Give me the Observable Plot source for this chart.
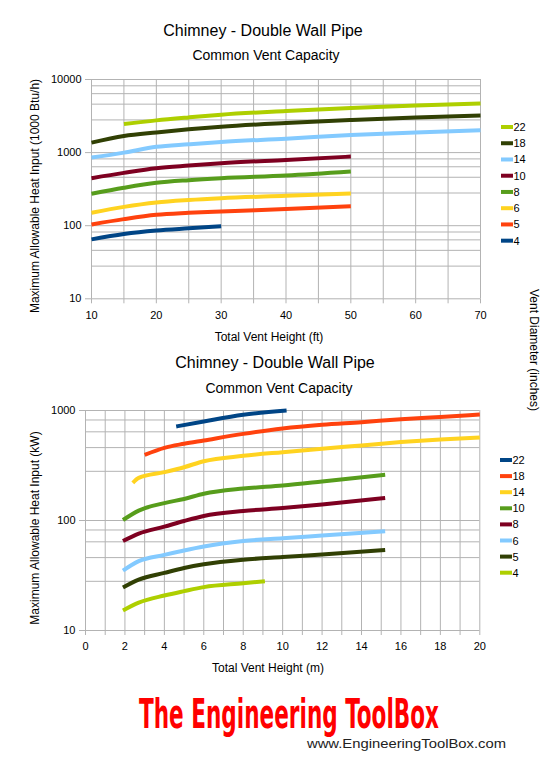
<!DOCTYPE html>
<html>
<head>
<meta charset="utf-8">
<script src="https://cdn.jsdelivr.net/npm/d3@7"></script>
<script src="https://cdn.jsdelivr.net/npm/@observablehq/plot@0.6"></script>
<style>
  html, body { margin: 0; padding: 0; background: #fff; }
  #root { position: relative; width: 550px; height: 762px; overflow: hidden; font-family: "Liberation Sans", Arial, sans-serif; }
  #root > svg, #root > figure { position: absolute; left: 0; margin: 0; }
</style>
</head>
<body>
<div id="root"></div>
<script>
// ---------- DATA ----------
const diameters = ["22", "18", "14", "10", "8", "6", "5", "4"];
const topColors = ["#aecf00", "#314004", "#83caff", "#7e0021", "#579d1c", "#ffd320", "#ff420e", "#004586"];
const bottomColors = ["#004586", "#ff420e", "#ffd320", "#579d1c", "#7e0021", "#83caff", "#314004", "#aecf00"];

// Top chart: [height ft, 1000 Btu/h]
const ft22 = [[15, 2460], [20, 2760], [25, 3030], [30, 3300], [40, 3700], [50, 4070], [60, 4420], [70, 4710]];
const ft18 = [[10, 1370], [15, 1690], [20, 1890], [25, 2080], [30, 2260], [40, 2540], [50, 2790], [60, 3030], [70, 3230]];
const ft14 = [[10, 855], [15, 1000], [20, 1200], [25, 1300], [30, 1400], [40, 1550], [50, 1740], [60, 1890], [70, 2020]];
const ft10 = [[10, 447], [15, 528], [20, 611], [25, 665], [30, 716], [40, 795], [50, 882]];
const ft8 = [[10, 273], [15, 330], [20, 386], [25, 420], [30, 447], [40, 486], [50, 551]];
const ft6 = [[10, 150], [15, 181], [20, 208], [25, 225], [30, 238], [40, 256], [50, 276]];
const ft5 = [[10, 104], [15, 123], [20, 141], [25, 150], [30, 157], [40, 169], [50, 185]];
const ft4 = [[10, 65], [15, 77], [20, 86], [25, 92], [30, 98]];

// Bottom chart: [height m, kW]
const m22 = [[4.6, 716], [6, 795], [8, 914], [10.2, 1000]];
const m18 = [[3.0, 395], [4, 458], [5, 498], [6, 534], [8, 613], [10, 686], [12, 741], [14, 783], [16, 834], [18, 875], [20, 920]];
const m14 = [[2.4, 220], [2.7, 244], [4, 275], [5, 305], [6, 346], [8, 387], [10, 418], [12, 449], [14, 481], [16, 516], [18, 545], [20, 569]];
const m10 = [[1.9, 101], [2.7, 123], [4, 144], [5, 157], [6, 175], [8, 195], [10, 208], [12, 226], [15.2, 260]];
const m8 = [[1.9, 65], [2.7, 76], [4, 88], [5, 99], [6, 110], [8, 122], [10, 130], [12, 140], [15.2, 160]];
const m6 = [[1.9, 35], [2.7, 42.7], [4, 48.7], [5, 53.4], [6, 58], [8, 65], [10, 69], [12, 73], [15.2, 80]];
const m5 = [[1.9, 24.6], [2.7, 29], [4, 33.4], [5, 37], [6, 40], [8, 44], [10, 46.5], [12, 49], [15.2, 54]];
const m4 = [[1.9, 15.2], [2.7, 17.9], [4, 20.8], [5, 22.8], [6, 24.8], [8, 26.9], [9.1, 28.1]];

// Axis ticks / grid
const topXTicks = [10, 15, 20, 25, 30, 35, 40, 45, 50, 55, 60, 65, 70];
const topYMajor = [10, 100, 1000, 10000];
const topYGrid = [10, 28, 46, 64, 82, 100, 280, 460, 640, 820, 1000, 2800, 4600, 6400, 8200, 10000];
const botXTicks = d3.range(0, 21, 1);
const botYMajor = [10, 100, 1000];
const botYGrid = [10, 28, 46, 64, 82, 100, 280, 460, 640, 820, 1000];

// Texts
const titleText = "Chimney - Double Wall Pipe";
const subtitleText = "Common Vent Capacity";
const topXLabel = "Total Vent Height (ft)";
const topYLabel = "Maximum Allowable Heat Input (1000 Btu/h)";
const botXLabel = "Total Vent Height (m)";
const botYLabel = "Maximum Allowable Heat Input (kW)";
const legendTitle = "Vent Diameter (inches)";
const logoText = "The Engineering ToolBox";
const urlText = "www.EngineeringToolBox.com";

// ---------- BUILD ----------
const font = "'Liberation Sans', Arial, sans-serif";
const gridColor = "#b3b3b3";
const root = document.getElementById("root");

const topSeries = [ft22, ft18, ft14, ft10, ft8, ft6, ft5, ft4];
const botSeries = [m22, m18, m14, m10, m8, m6, m5, m4];
const toRows = (series) => series.flatMap((s, i) => s.map(([x, y]) => ({d: diameters[i], x, y})));

function makeChart({rows, colors, xDomain, yDomain, xTicks, xLabelEvery, yMajor, yGrid, height, mt, mb, ml, mr}) {
  return Plot.plot({
    width: 550, height, marginTop: mt, marginBottom: mb, marginLeft: ml, marginRight: mr,
    style: {fontFamily: font, fontSize: "11px", color: "#000", background: "transparent", overflow: "visible"},
    x: {domain: xDomain},
    y: {type: "log", domain: yDomain},
    color: {domain: diameters, range: colors},
    marks: [
      Plot.ruleX(xTicks, {stroke: gridColor, strokeWidth: 1}),
      Plot.ruleY(yGrid, {stroke: gridColor, strokeWidth: 1}),
      Plot.axisX(xTicks, {tickSize: 5, tickPadding: 7, stroke: gridColor, fill: "#000",
        tickFormat: d => (d % xLabelEvery === 0 ? String(d) : ""), label: null}),
      Plot.axisY(yMajor, {tickSize: 6, tickPadding: 4, stroke: gridColor, fill: "#000",
        tickFormat: d => String(d), label: null}),
      Plot.line(rows, {x: "x", y: "y", z: "d", stroke: "d", strokeWidth: 4,
        curve: "monotone-x", strokeLinecap: "butt", strokeLinejoin: "round"})
    ]
  });
}

const topChart = makeChart({
  rows: toRows(topSeries), colors: topColors, xDomain: [10, 70], yDomain: [10, 10000],
  xTicks: topXTicks, xLabelEvery: 10, yMajor: topYMajor, yGrid: topYGrid,
  height: 330, mt: 79, mb: 31.7, ml: 91, mr: 70
});
topChart.style.top = "0px";
root.appendChild(topChart);

const botChart = makeChart({
  rows: toRows(botSeries), colors: bottomColors, xDomain: [0, 20], yDomain: [10, 1000],
  xTicks: botXTicks, xLabelEvery: 2, yMajor: botYMajor, yGrid: botYGrid,
  height: 260, mt: 10, mb: 30, ml: 85, mr: 70.7
});
botChart.style.top = "400px";
root.appendChild(botChart);

// Overlay: titles, axis labels, legends, logo
const svg = d3.select(root).append("svg")
  .attr("width", 550).attr("height", 762)
  .style("top", "0px").style("pointer-events", "none")
  .attr("font-family", font).attr("fill", "#000");

function text(x, y, str, size, opts = {}) {
  const t = svg.append("text").attr("x", x).attr("y", y).attr("font-size", size)
    .attr("text-anchor", opts.anchor || "middle").text(str);
  if (opts.rotate) t.attr("transform", `rotate(${opts.rotate},${x},${y})`);
  return t;
}

// Top titles
text(263, 36, titleText, 16);
text(266, 60, subtitleText, 14);
text(269, 340.5, topXLabel, 12);
text(39, 196, topYLabel, 12, {rotate: -90});
// Bottom titles
text(275, 367.7, titleText, 16);
text(279, 392.7, subtitleText, 14);
text(268, 672, botXLabel, 12);
text(39, 528, botYLabel, 12, {rotate: -90});
// Shared legend title
text(530, 350, legendTitle, 12, {rotate: 90});

function legend(x0, y0, step, colors) {
  diameters.forEach((d, i) => {
    const y = y0 + i * step;
    svg.append("line").attr("x1", x0).attr("x2", x0 + 12).attr("y1", y).attr("y2", y)
      .attr("stroke", colors[i]).attr("stroke-width", 4);
    svg.append("text").attr("x", x0 + 12.5).attr("y", y + 4).attr("font-size", 11).text(d);
  });
}
legend(501, 127, 16.24, topColors);
legend(500, 460, 16.1, bottomColors);

// Logo (condensed bold, stretched vertically)
svg.append("text").attr("x", 0).attr("y", 0).attr("font-size", 30)
  .attr("font-family", "'Liberation Sans Narrow', 'DejaVu Sans Condensed', sans-serif")
  .attr("font-weight", "bold").attr("fill", "#ff0000")
  .attr("textLength", 300).attr("lengthAdjust", "spacingAndGlyphs")
  .attr("transform", "translate(139,728) scale(1,1.36)")
  .text(logoText);
svg.append("text").attr("x", 307).attr("y", 748).attr("font-size", 13)
  .attr("fill", "#222").attr("textLength", 199).attr("lengthAdjust", "spacingAndGlyphs").text(urlText);
</script>
</body>
</html>
